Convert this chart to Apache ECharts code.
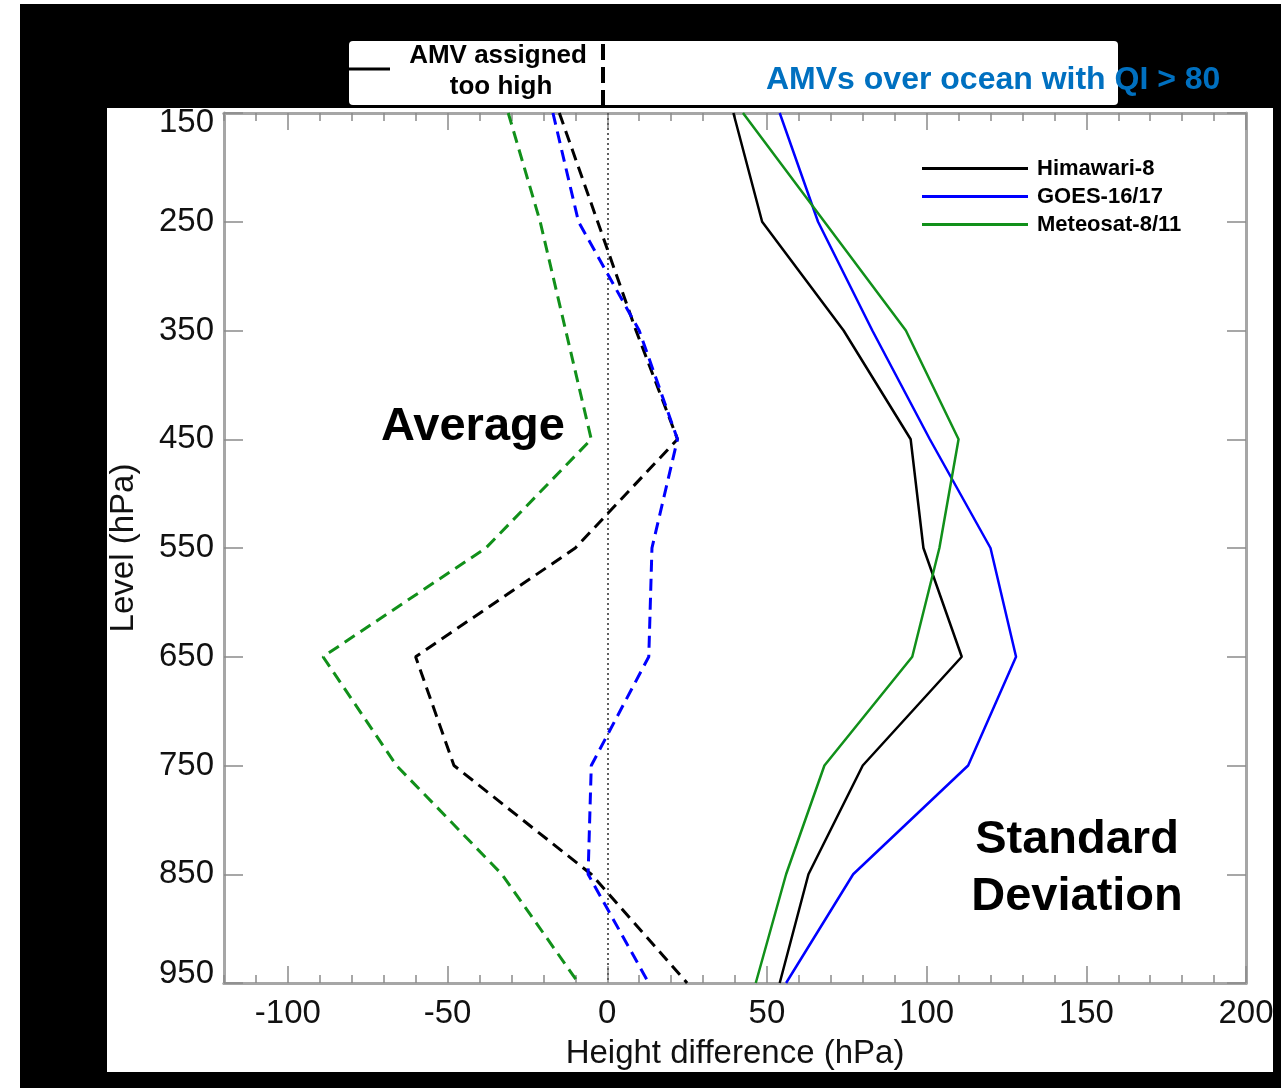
<!DOCTYPE html>
<html>
<head>
<meta charset="utf-8">
<script src="https://cdn.jsdelivr.net/npm/echarts@6/dist/echarts.min.js"></script>
<style>
html,body{margin:0;padding:0;background:#fff;}
#chart{width:1281px;height:1088px;}
</style>
</head>
<body>
<div id="chart"></div>
<script>
// Pressure levels (hPa)
var levels = [150, 250, 350, 450, 550, 650, 750, 850, 950];
// Average height difference (hPa) - dashed
var himawariAvg = [-15, -3, 9, 22, -10, -60, -48, -5, 25];
var goesAvg     = [-17, -9, 10, 22, 14, 13, -5, -6, 13];
var meteosatAvg = [-31, -21, -13, -5, -38, -89, -66, -33, -9];
// Standard deviation (hPa) - solid
var himawariStd = [39.5, 48.5, 74, 95, 99, 111, 80, 63, 54];
var goesStd     = [54, 66, 83, 101, 120, 128, 113, 77, 56];
var meteosatStd = [42.5, 68, 93.5, 110, 104, 95.5, 68, 56, 46.5];
// Tick labels
var xTickLabels = [-100, -50, 0, 50, 100, 150, 200];
var yTickLabels = [150, 250, 350, 450, 550, 650, 750, 850, 950];
var seriesNames = ['Himawari-8', 'GOES-16/17', 'Meteosat-8/11'];
var zeroLine = [0];

var X_MIN = -120, X_MAX = 200, Y_MIN = 150, Y_MAX = 950;
var xMinorTicks = [];
for (var v = X_MIN; v <= X_MAX; v += 10) xMinorTicks.push(v);

function pairs(xs) { return xs.map(function (x, i) { return [x, levels[i]]; }); }

var FONT = '"Liberation Sans", Arial, Helvetica, sans-serif';
var BLACK = '#000000', BLUE = '#0000ff', GREEN = '#11901a';
var AXIS_COLOR = '#a6a6a6', TICK_COLOR = '#8a8a8a';

function xAxisDef(pos, major, showLabel, showName) {
  return {
    type: 'value', position: pos, min: X_MIN, max: X_MAX, interval: 10,
    axisLine: { show: true, onZero: false, lineStyle: { color: AXIS_COLOR, width: 3 } },
    axisTick: { show: true, inside: true, length: major ? 17 : 8,
      customValues: major ? xTickLabels : xMinorTicks,
      lineStyle: { color: TICK_COLOR, width: 1.5 } },
    axisLabel: { show: showLabel, customValues: xTickLabels, fontSize: 33, color: '#111',
      fontFamily: FONT, margin: 14 },
    splitLine: { show: false },
    name: showName ? 'Height difference (hPa)' : '',
    nameLocation: 'middle', nameGap: 54,
    nameTextStyle: { fontSize: 33, color: '#111', fontFamily: FONT }
  };
}
function yAxisDef(pos, showLabel) {
  return {
    type: 'value', position: pos, min: Y_MIN, max: Y_MAX, inverse: true,
    axisLine: { show: true, onZero: false, lineStyle: { color: AXIS_COLOR, width: 3 } },
    axisTick: { show: true, inside: true, length: 19, customValues: yTickLabels,
      lineStyle: { color: TICK_COLOR, width: 1.5 } },
    axisLabel: { show: showLabel, customValues: yTickLabels, fontSize: 33, color: '#111',
      fontFamily: FONT, margin: 10,
      formatter: function (val) {
        if (val === Y_MIN) return '{t|' + val + '}';
        if (val === Y_MAX) return '{b|' + val + '}';
        return String(val);
      },
      rich: {
        t: { fontSize: 33, color: '#111', fontFamily: FONT, padding: [20, 0, 0, 0] },
        b: { fontSize: 33, color: '#111', fontFamily: FONT, padding: [0, 0, 18, 0] }
      }
    },
    splitLine: { show: false },
    name: showLabel ? 'Level (hPa)' : '',
    nameLocation: 'middle', nameGap: 84,
    nameTextStyle: { fontSize: 33, color: '#111', fontFamily: FONT }
  };
}

function lineSeries(name, xs, color, dashed, extra) {
  var s = {
    name: name, type: 'line', xAxisIndex: 0, yAxisIndex: 0,
    data: pairs(xs), showSymbol: false, symbol: 'none', smooth: false,
    lineStyle: { color: color, width: dashed ? 3 : 2.5, type: dashed ? [12, 7] : 'solid' },
    itemStyle: { color: color },
    z: 5, silent: true, animation: false
  };
  if (extra) for (var k in extra) s[k] = extra[k];
  return s;
}

var chart = echarts.init(document.getElementById('chart'), null, { renderer: 'canvas' });
var option = {
  animation: false,
  backgroundColor: 'transparent',
  textStyle: { fontFamily: FONT },
  grid: { left: 224, top: 113, width: 1022, height: 870, containLabel: false },
  xAxis: [
    xAxisDef('bottom', false, true, true),
    xAxisDef('bottom', true, false, false),
    xAxisDef('top', false, false, false),
    xAxisDef('top', true, false, false)
  ],
  yAxis: [
    yAxisDef('left', true),
    yAxisDef('right', false)
  ],
  legend: {
    show: true, orient: 'vertical', left: 922, top: 156, z: 20, padding: 0,
    data: seriesNames, icon: 'rect', itemWidth: 106, itemHeight: 3, itemGap: 3,
    textStyle: { fontSize: 22, fontWeight: 'bold', color: '#000', fontFamily: FONT,
      lineHeight: 25, padding: [0, 0, 0, 4] },
    selectedMode: false
  },
  series: [
    lineSeries(seriesNames[0] + ' avg', himawariAvg, BLACK, true, {
      markLine: {
        silent: true, symbol: ['none', 'none'], label: { show: false },
        lineStyle: { color: '#606060', type: [2, 3], width: 2 },
        data: zeroLine.map(function (z) { return { xAxis: z }; })
      }
    }),
    lineSeries(seriesNames[1] + ' avg', goesAvg, BLUE, true),
    lineSeries(seriesNames[2] + ' avg', meteosatAvg, GREEN, true),
    lineSeries(seriesNames[0], himawariStd, BLACK, false),
    lineSeries(seriesNames[1], goesStd, BLUE, false),
    lineSeries(seriesNames[2], meteosatStd, GREEN, false)
  ],
  graphic: [
    { type: 'rect', z: -100, silent: true, shape: { x: 20, y: 4, width: 1261, height: 1084 }, style: { fill: '#000' } },
    { type: 'rect', z: -99, silent: true, shape: { x: 107, y: 108, width: 1166, height: 964 }, style: { fill: '#fff' } },
    { type: 'rect', z: 100, silent: true, shape: { x: 1273, y: 108, width: 8, height: 964 }, style: { fill: '#000' } },
    { type: 'rect', z: 101, silent: true, shape: { x: 349, y: 41, width: 769, height: 64, r: 4 }, style: { fill: '#fff' } },
    { type: 'line', z: 102, silent: true, shape: { x1: 349, y1: 69, x2: 390, y2: 69 }, style: { stroke: '#000', lineWidth: 3 } },
    { type: 'line', z: 102, silent: true, shape: { x1: 603, y1: 44, x2: 603, y2: 110 }, style: { stroke: '#000', lineWidth: 4, lineDash: [16, 7] } },
    { type: 'text', z: 102, silent: true, x: 498, y: 56, style: { text: 'AMV assigned', fill: '#000', font: 'bold 26px ' + FONT, textAlign: 'center', textVerticalAlign: 'middle' } },
    { type: 'text', z: 102, silent: true, x: 501, y: 87, style: { text: 'too high', fill: '#000', font: 'bold 26px ' + FONT, textAlign: 'center', textVerticalAlign: 'middle' } },
    { type: 'text', z: 102, silent: true, x: 766, y: 80, style: { text: 'AMVs over ocean with QI > 80', fill: '#0070c0', font: 'bold 32px ' + FONT, textAlign: 'left', textVerticalAlign: 'middle' } },
    { type: 'text', z: 50, silent: true, x: 473, y: 427, style: { text: 'Average', fill: '#000', font: 'bold 47px ' + FONT, textAlign: 'center', textVerticalAlign: 'middle' } },
    { type: 'text', z: 50, silent: true, x: 1077, y: 840, style: { text: 'Standard', fill: '#000', font: 'bold 47px ' + FONT, textAlign: 'center', textVerticalAlign: 'middle' } },
    { type: 'text', z: 50, silent: true, x: 1077, y: 897, style: { text: 'Deviation', fill: '#000', font: 'bold 47px ' + FONT, textAlign: 'center', textVerticalAlign: 'middle' } }
  ]
};
chart.setOption(option);
</script>
</body>
</html>
